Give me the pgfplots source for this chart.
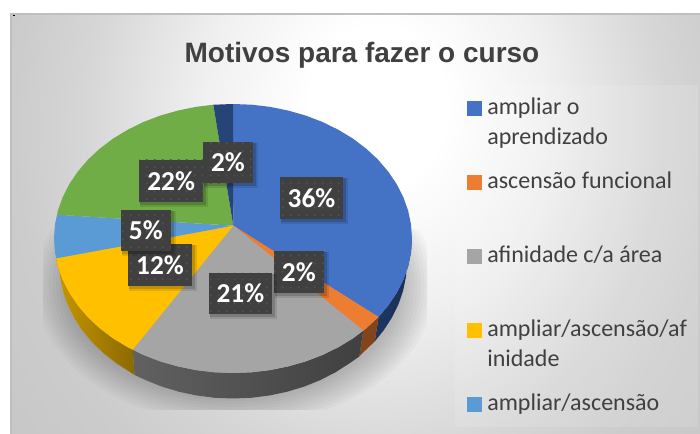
\documentclass[border=0pt]{standalone}
\usepackage{fontspec}
\setmainfont{Carlito}
\newfontfamily\titlefont{Liberation Sans}
\usepackage{pgfplots}
\pgfplotsset{compat=1.18}
\usetikzlibrary{patterns.meta}
\definecolor{cblue}{HTML}{4472C4}
\definecolor{corange}{HTML}{ED7D31}
\definecolor{cgray}{HTML}{A5A5A5}
\definecolor{cyellow}{HTML}{FFC000}
\definecolor{clblue}{HTML}{5B9BD5}
\definecolor{cgreen}{HTML}{70AD47}
\definecolor{cnavy}{HTML}{264478}
\definecolor{ctxt}{HTML}{404040}
\definecolor{bga}{HTML}{FFFFFF}
\definecolor{bgb}{HTML}{F0F0F0}
\definecolor{bgc}{HTML}{D6D6D6}
\definecolor{bgd}{HTML}{CCCCCC}
\definecolor{bge}{HTML}{C6C6C6}
\pgfdeclareradialshading{panelbg}{\pgfpoint{1.75bp}{7.5bp}}{%
 color(0bp)=(bga); color(5bp)=(bga); color(12.5bp)=(bgb); color(21bp)=(bgc); color(26bp)=(bgd); color(33.5bp)=(bge); color(100bp)=(bge)}
\newcommand\lbl[5]{%
 \fill[black,opacity=.10] (axis cs:#1+1,#2+1) rectangle (axis cs:#3+5,#4+5);
 \fill[black,opacity=.16] (axis cs:#1+1,#2+1) rectangle (axis cs:#3+3,#4+3);
 \fill[ctxt] (axis cs:#1,#2) rectangle (axis cs:#3,#4);
 \fill[pattern={Dots[distance=6pt,radius=.8pt,xshift=2pt,yshift=2pt]},pattern color=white!9!ctxt] (axis cs:#1,#2) rectangle (axis cs:#3,#4);
 \node[text=white,font=\fontsize{20.5}{21}\selectfont\bfseries,inner sep=0pt] at (axis cs:{(#1+#3)/2},{(#2+#4)/2}) {#5\%};
}
\newcommand\lgd[2]{\node[anchor=base west,inner sep=0pt,text=ctxt,font=\fontsize{18}{20}\selectfont] at (axis cs:487,#1) {#2};}
\begin{document}
\begin{tikzpicture}
\begin{axis}[scale only axis,width=525pt,height=325.5pt,xmin=0,xmax=700,ymin=0,ymax=434,y dir=reverse,axis lines=none,clip=true]
% panel
\addplot[draw=none,fill=white] coordinates {(0,0)(700,0)(700,434)(0,434)} --cycle;
\begin{scope}
\clip (axis cs:10,14) rectangle (axis cs:700,434);
\fill[shading=panelbg] (axis cs:10,-180) rectangle (axis cs:700,620);
\end{scope}
\addplot[draw=none,fill=white,fill opacity=.12] coordinates {(455,85)(698,85)(698,427)(455,427)} --cycle;
\addplot[draw=black!25,line width=1.4pt] coordinates {(700,14)(11,14)(11,434)};
\addplot[black,line width=.7pt] coordinates {(12.5,15.3)(15,15.3)};
% shadow
\begin{scope}
\clip (axis cs:43,230) rectangle (axis cs:427,410);
\pgfplotsinvokeforeach{0,...,9}{
 \fill[black,opacity=.025] (axis cs:235,285) ellipse [x radius={200-3.5*#1}, y radius={140-3*#1}];
}
\end{scope}
% sides
\addplot[draw=none,left color=cnavy!80!black,right color=cnavy!70!black] coordinates {(412,238.5)(411,252.6)(408.1,266.5)(403.2,280.1)(396.5,293.2)(388,305.8)(378.5,317) (374.8,341.4)(383.7,330.3)(392,317.5)(398.5,304.2)(403.2,290.4)(406,276.3)(407,262)} --cycle;
\addplot[draw=none,fill=corange!55!black] coordinates {(378.5,317)(366,328.5)(363.3,330.6)(359.3,356.5)(362.3,353.3)(374.8,341.4)} --cycle;
\addplot[draw=none,left color=black!62,right color=black!75] coordinates {(363.3,330.6)(352.8,338.5)(338.2,347.3)(322.5,355)(305.8,361.4)(288.3,366.4)(270.2,370.1)(251.7,372.3)(233,373)(214.3,372.3)(195.8,370.1)(177.7,366.4)(160.2,361.4)(143.5,355)(132.7,349.7)
 (134.5,375)(146,380.2)(162.2,386.7)(179.2,391.8)(196.8,395.5)(214.8,397.8)(233,398.5)(251.2,397.8)(269.2,395.5)(286.8,391.8)(303.8,386.7)(320,380.2)(335.3,372.4)(349.4,363.4)(359.3,356.5)} --cycle;
\addplot[draw=none,left color=cyellow!78!black,right color=cyellow!55!black] coordinates {(132.7,349.7)(127.8,347.3)(113.2,338.5)(100,328.5)(88.2,317.6)(78,305.8)(69.5,293.2)(62.8,280.1)(57.9,266.5)(56.2,258.3)
 (59,262)(60,276.3)(62.8,290.4)(67.5,304.2)(74,317.5)(82.3,330.3)(92.2,342.2)(103.7,353.3)(116.6,363.4)(130.7,372.4)(134.5,375)} --cycle;
% top face
\addplot[draw=none,fill=cblue] coordinates {(233.3,225.7)(233,104)(251.7,104.7)(270.2,106.9)(288.3,110.6)(305.8,115.6)(322.5,122)(338.2,129.7)(352.8,138.5)(366,148.5)(377.8,159.4)(388,171.3)(396.5,183.8)(403.2,196.9)(408.1,210.5)(411,224.4)(412,238.5)(411,252.6)(408.1,266.5)(403.2,280.1)(396.5,293.2)(388,305.8)(378.5,317)} --cycle;
\addplot[draw=none,fill=corange] coordinates {(233.3,225.7)(378.5,317)(366,328.5)(363.3,330.6)} --cycle;
\addplot[draw=none,fill=cgray] coordinates {(233.3,225.7)(363.3,330.6)(352.8,338.5)(338.2,347.3)(322.5,355)(305.8,361.4)(288.3,366.4)(270.2,370.1)(251.7,372.3)(233,373)(214.3,372.3)(195.8,370.1)(177.7,366.4)(160.2,361.4)(143.5,355)(132.7,349.7)} --cycle;
\addplot[draw=none,fill=cyellow] coordinates {(233.3,225.7)(132.7,349.7)(127.8,347.3)(113.2,338.5)(100,328.5)(88.2,317.6)(78,305.8)(69.5,293.2)(62.8,280.1)(57.9,266.5)(56.2,258.3)} --cycle;
\addplot[draw=none,fill=clblue] coordinates {(233.3,225.7)(56.2,258.3)(55,252.6)(54,238.5)(55,224.4)(57,214.7)} --cycle;
\addplot[draw=none,fill=cgreen] coordinates {(233.3,225.7)(57,214.7)(57.9,210.5)(62.8,196.9)(69.5,183.8)(78,171.3)(88.2,159.4)(100,148.5)(113.2,138.5)(127.8,129.7)(143.5,122)(160.2,115.6)(177.7,110.6)(195.8,106.9)(213.3,104.7)} --cycle;
\addplot[draw=none,fill=cnavy] coordinates {(233.3,225.7)(213.3,104.7)(214.3,104.7)(233,104)} --cycle;
% legend keys
\addplot[only marks,mark=square*,mark size=5pt,color=cblue,mark options={draw=cblue,fill=cblue,line width=.2pt}] coordinates {(474,108)};
\addplot[only marks,mark=square*,mark size=5pt,color=corange,mark options={draw=corange,fill=corange,line width=.2pt}] coordinates {(474,182)};
\addplot[only marks,mark=square*,mark size=5pt,color=cgray,mark options={draw=cgray,fill=cgray,line width=.2pt}] coordinates {(474,256)};
\addplot[only marks,mark=square*,mark size=5pt,color=cyellow,mark options={draw=cyellow,fill=cyellow,line width=.2pt}] coordinates {(474,330)};
\addplot[only marks,mark=square*,mark size=5pt,color=clblue,mark options={draw=clblue,fill=clblue,line width=.2pt}] coordinates {(474,404)};
\lgd{115}{ampliar o}
\lgd{145}{aprendizado}
\lgd{189}{ascensão funcional}
\lgd{263}{afinidade c/a área}
\lgd{337}{ampliar/ascensão/af}
\lgd{367}{inidade}
\lgd{411}{ampliar/ascensão}
% data labels
\lbl{280}{177}{343}{219}{36}
\lbl{274}{251.3}{323.7}{292.7}{2}
\lbl{209}{273}{271.7}{313.7}{21}
\lbl{128}{244}{192}{285.7}{12}
\lbl{121}{210}{170.7}{251}{5}
\lbl{139}{160}{203.3}{201.7}{22}
\lbl{203.3}{141.7}{252.7}{183.3}{2}
% title
\node[anchor=base,inner sep=0pt,text=ctxt,font=\titlefont\fontsize{21}{24}\selectfont\bfseries] at (axis cs:362,62.5) {Motivos para fazer o curso};
\end{axis}
\end{tikzpicture}
\end{document}
